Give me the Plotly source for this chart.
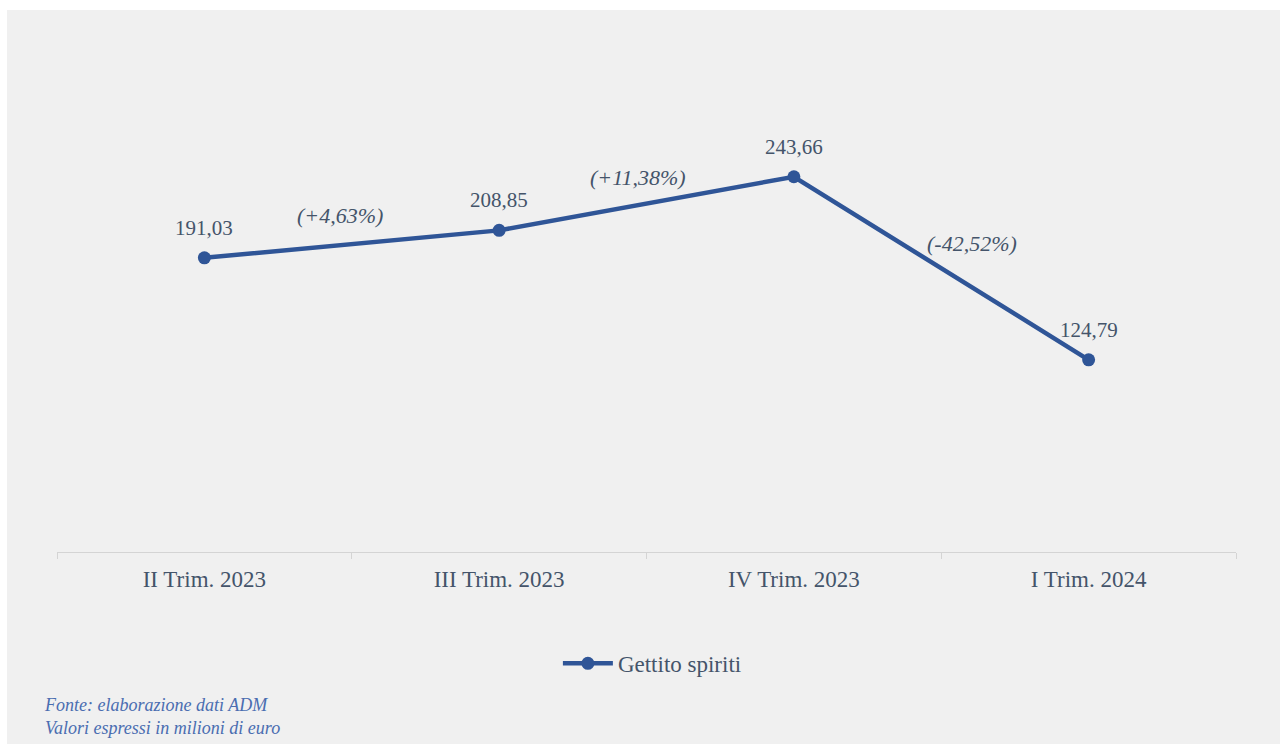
import plotly.graph_objects as go

categories = ["II Trim. 2023", "III Trim. 2023", "IV Trim. 2023", "I Trim. 2024"]
values = [191.03, 208.85, 243.66, 124.79]
value_labels = ["191,03", "208,85", "243,66", "124,79"]
pct_labels = ["(+4,63%)", "(+11,38%)", "(-42,52%)"]
series_name = "Gettito spiriti"
footnote = ["Fonte: elaborazione dati ADM", "Valori espressi in milioni di euro"]

LINE = "#2f5597"
TXT = "#44546a"
FOOT = "#4a6db0"
BG = "#f0f0f0"
FONT = "Liberation Serif"

fig = go.Figure()
fig.add_trace(go.Scatter(
    x=categories, y=values, mode="lines+markers", name=series_name,
    line=dict(color=LINE, width=4.5),
    marker=dict(color=LINE, size=13),
))

annotations = []
for c, v, t in zip(categories, values, value_labels):
    annotations.append(dict(x=c, y=v, text=t, showarrow=False, yshift=30,
                            font=dict(family=FONT, size=21, color=TXT)))

pct_offsets = [(-12, 29), (-9, 26), (31, 25)]
for i, t in enumerate(pct_labels):
    ymid = (values[i] + values[i + 1]) / 2
    dx, dy = pct_offsets[i]
    annotations.append(dict(x=i + 0.5, y=ymid, text="<i>" + t + "</i>", showarrow=False,
                            xshift=dx, yshift=dy,
                            font=dict(family=FONT, size=22, color=TXT)))

annotations.append(dict(xref="paper", yref="paper", x=-0.0127, y=-0.305, xanchor="left", yanchor="top",
                        align="left", showarrow=False,
                        text="<i>" + footnote[0] + "<br>" + footnote[1] + "</i>",
                        font=dict(family=FONT, size=18, color=FOOT)))

fig.update_layout(
    width=1280, height=744,
    margin=dict(l=57, r=44, t=90, b=192),
    paper_bgcolor=BG, plot_bgcolor=BG,
    showlegend=True,
    legend=dict(orientation="h", x=0.505, xanchor="center", y=-0.241, yanchor="middle",
                itemwidth=50,
                font=dict(family=FONT, size=23, color=TXT), bgcolor="rgba(0,0,0,0)"),
    xaxis=dict(type="category", range=[-0.5, 3.5], showgrid=False, showline=True,
               linecolor="#d4d4d4", linewidth=1.3, ticks="outside", tickson="boundaries",
               tickcolor="#d4d4d4", ticklen=6, zeroline=False, ticklabelstandoff=6,
               tickfont=dict(family=FONT, size=23, color=TXT)),
    yaxis=dict(range=[0, 300], visible=False, showgrid=False, zeroline=False),
    annotations=annotations,
    shapes=[
        dict(type="rect", xref="paper", yref="paper", x0=-0.1, x1=1.1,
             y0=1 + 80 / 462, y1=1 + 95 / 462, fillcolor="white", line=dict(width=0)),
        dict(type="rect", xref="paper", yref="paper", x0=-60 / 1179, x1=-50 / 1179,
             y0=-0.5, y1=1.3, fillcolor="white", line=dict(width=0)),
    ],
)

fig.write_html("out.html", config={"displayModeBar": False},
               post_script="document.body.style.margin='0';document.body.style.padding='0';")
